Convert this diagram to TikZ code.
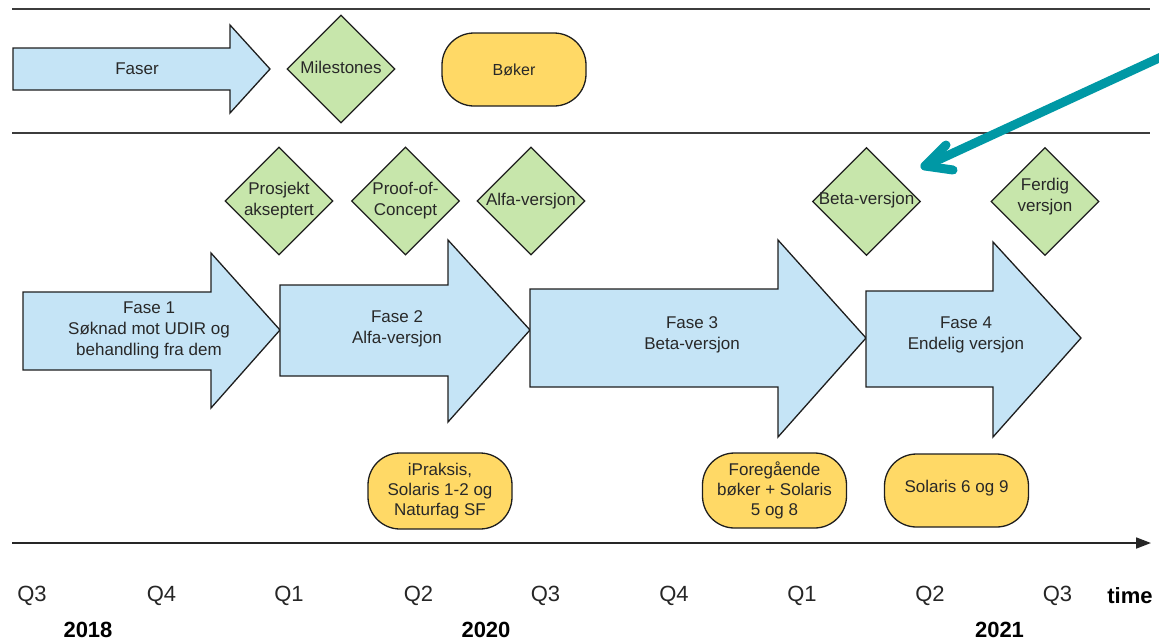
\documentclass[tikz,border=0pt]{standalone}
\usepackage{fontspec}
\setmainfont{Liberation Sans}
\usetikzlibrary{shapes.geometric,arrows.meta}
\definecolor{phaseblue}{RGB}{197,228,246}
\definecolor{msgreen}{RGB}{199,230,171}
\definecolor{bookyellow}{RGB}{255,217,102}
\definecolor{strokegray}{RGB}{30,30,30}
\definecolor{textgray}{RGB}{40,40,40}
\definecolor{rulegray}{RGB}{60,60,60}
\definecolor{tealarrow}{RGB}{0,152,165}
\begin{document}
\begin{tikzpicture}[x=1pt,y=-1pt,
  phase/.style={draw=strokegray,fill=phaseblue,line width=1.3pt,line join=miter},
  ms/.style={draw=strokegray,fill=msgreen,line width=1.3pt,shape=diamond,minimum width=108pt,minimum height=108pt,inner sep=0pt},
  book/.style={draw=strokegray,fill=bookyellow,line width=1.3pt,rounded corners=32pt,minimum width=144pt,minimum height=75pt,inner sep=0pt},
  txt/.style={text=textgray,align=center,inner sep=0pt,font=\fontsize{17}{21}\selectfont},
  btxt/.style={text=textgray,align=center,inner sep=0pt,font=\fontsize{17}{20}\selectfont},
  qlbl/.style={text=black!85,inner sep=0pt,font=\fontsize{22}{24}\selectfont},
  ylbl/.style={text=black,inner sep=0pt,font=\fontsize{22}{24}\selectfont\bfseries},
  rule/.style={draw=rulegray,line width=1.8pt},
  timeline/.style={draw=black!85,line width=1.8pt,-{Triangle[length=15pt,width=11pt]}},
  pointer/.style={draw=tealarrow,line width=9pt,line cap=round,line join=round}
]
\useasboundingbox (0,0) rectangle (1159,641);

% legend rules
\coordinate (r1a) at (12,9);
\coordinate (r1b) at (1150,9);
\coordinate (r2a) at (12,133);
\coordinate (r2b) at (1150,133);
\draw[rule] (r1a) -- (r1b);
\draw[rule] (r2a) -- (r2b);

% legend
\draw[phase] (13,48) -- (230,48) -- (230,25) -- (270,69) -- (230,113) -- (230,90) -- (13,90) -- cycle;
\node[txt] (faser) at (137,69) {Faser};
\node[ms] (msleg) at (341,69) {};
\node[txt] (msleglbl) at (341,67) {Milestones};
\node[book,minimum height=73pt] (bokleg) at (514,69.5) {};
\node[txt,font=\fontsize{16}{20}\selectfont] (boklbl) at (bokleg) {Bøker};

% milestones
\node[ms] (m1) at (279,201) {};
\node[txt] (m1t) at (279,201) {Prosjekt\\akseptert};
\node[ms] (m2) at (405.5,201) {};
\node[txt] (m2t) at (405.5,201) {Proof-of-\\Concept};
\node[ms] (m3) at (531,201) {};
\node[txt] (m3t) at (531,201) {Alfa-versjon};
\node[ms] (m4) at (866.5,201.5) {};
\node[txt] (m4t) at (866.5,200) {Beta-versjon};
\node[ms] (m5) at (1045,201.5) {};
\node[txt] (m5t) at (1045,196.5) {Ferdig\\versjon};

% phases
\draw[phase] (23,292) -- (211,292) -- (211,253) -- (280,330) -- (211,408) -- (211,370) -- (23,370) -- cycle;
\node[txt] (f1) at (149,330) {Fase 1\\Søknad mot UDIR og\\behandling fra dem};
\draw[phase] (280,285) -- (448,285) -- (448,240) -- (530,330) -- (448,422) -- (448,376) -- (280,376) -- cycle;
\node[txt] (f2) at (397,329) {Fase 2\\Alfa-versjon};
\draw[phase] (530,289) -- (778,289) -- (778,240) -- (866,338) -- (778,437) -- (778,387) -- (530,387) -- cycle;
\node[txt] (f3) at (692,334.5) {Fase 3\\Beta-versjon};
\draw[phase] (866,291) -- (993,291) -- (993,242) -- (1081,338) -- (993,437) -- (993,387) -- (866,387) -- cycle;
\node[txt] (f4) at (966,335) {Fase 4\\Endelig versjon};

% books
\node[book,minimum height=76pt] (b1) at (440,491) {};
\node[btxt] (b1t) at (440,491) {iPraksis,\\Solaris 1-2 og\\Naturfag SF};
\node[book] (b2) at (774.5,490.5) {};
\node[btxt] (b2t) at (774.5,490.5) {Foregående\\bøker + Solaris\\5 og 8};
\node[book,minimum height=73pt] (b3) at (956.5,490.5) {};
\node[btxt] (b3t) at (956.5,488) {Solaris 6 og 9};

% timeline
\coordinate (tl0) at (12,543);
\coordinate (tl1) at (1151,543);
\draw[timeline] (tl0) -- (tl1);

\node[qlbl] (q1) at (32,596) {Q3};
\node[qlbl] (q2) at (161.5,596) {Q4};
\node[qlbl] (q3) at (289,596) {Q1};
\node[qlbl] (q4) at (418.5,596) {Q2};
\node[qlbl] (q5) at (545.5,596) {Q3};
\node[qlbl] (q6) at (674,596) {Q4};
\node[qlbl] (q7) at (802,596) {Q1};
\node[qlbl] (q8) at (930,596) {Q2};
\node[qlbl] (q9) at (1057.5,596) {Q3};
\node[ylbl] (time) at (1130,596) {time};
\node[ylbl] (y2018) at (88,630) {2018};
\node[ylbl] (y2020) at (486,630) {2020};
\node[ylbl] (y2021) at (999.5,630) {2021};

% teal pointer
\coordinate (pstart) at (1172,52);
\coordinate (ptip) at (925,166);
\coordinate (pb1) at (946,145);
\coordinate (pb2) at (953,170);
\draw[pointer] (pstart) -- (ptip);
\draw[pointer] (pb1) -- (ptip) -- (pb2);
\end{tikzpicture}
\end{document}
